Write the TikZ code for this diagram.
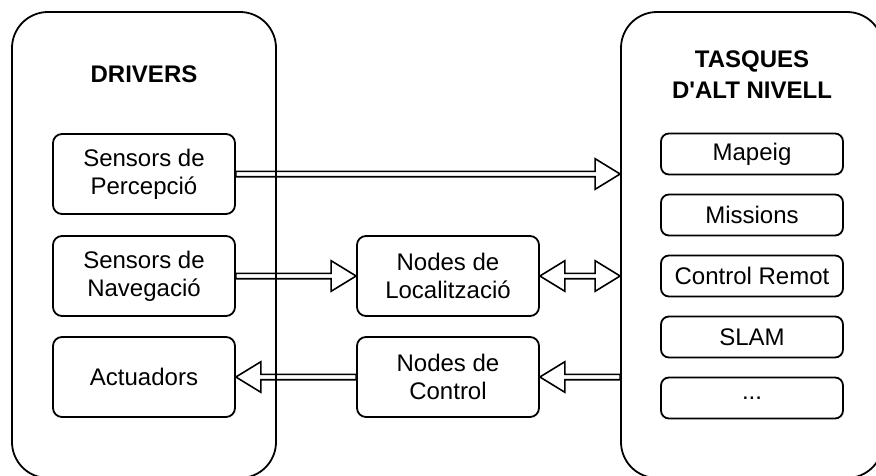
\documentclass[tikz,border=0pt]{standalone}
\usepackage{fontspec}
\setmainfont{Liberation Sans}[Ligatures=TeXOff]
\usetikzlibrary{calc}

% shaft half-width, head half-width and head length of the hollow block arrows
\newcommand\sh{2.7pt}
\newcommand\hw{15.3pt}
\newcommand\hl{25pt}

% hollow block arrow from #1 to #2 (tip at #2)
\newcommand\blockarrow[2]{%
  \draw[blockarr] let \p1=(#1), \p2=(#2), \p3=($(#2)!\hl!(#1)$) in
    (\x1,\y1+\sh) -- (\x3,\y1+\sh) -- (\x3,\y1+\hw) -- (\x2,\y1)
    -- (\x3,\y1-\hw) -- (\x3,\y1-\sh) -- (\x1,\y1-\sh) -- cycle;}

% hollow block arrow with heads at both ends
\newcommand\blockarrowboth[2]{%
  \draw[blockarr] let \p1=(#1), \p2=(#2), \p3=($(#1)!\hl!(#2)$),
    \p4=($(#2)!\hl!(#1)$) in
    (\x1,\y1) -- (\x3,\y1+\hw) -- (\x3,\y1+\sh) -- (\x4,\y1+\sh)
    -- (\x4,\y1+\hw) -- (\x2,\y1) -- (\x4,\y1-\hw) -- (\x4,\y1-\sh)
    -- (\x3,\y1-\sh) -- (\x3,\y1-\hw) -- cycle;}

\tikzset{
  container/.style={draw, line width=1.8pt, rounded corners=36pt,
    inner sep=0pt},
  bigbox/.style={draw, line width=1.8pt, rounded corners=9pt, fill=white,
    minimum width=182pt, minimum height=80pt, inner sep=0pt, align=center,
    font=\fontsize{24}{28}\selectfont},
  taskbox/.style={draw, line width=1.8pt, rounded corners=8pt, fill=white,
    minimum width=182pt, minimum height=41pt, inner sep=0pt, align=center,
    font=\fontsize{24}{28}\selectfont},
  heading/.style={align=center, inner sep=0pt,
    font=\fontsize{24}{31}\selectfont\bfseries},
  blockarr/.style={draw, line width=1.6pt, line join=miter},
}

\begin{document}
\begin{tikzpicture}[x=1pt, y=-1pt]
\useasboundingbox (0,0) rectangle (876,475);

% outer groups
\node[container, minimum width=264pt, minimum height=466pt] (drv) at (144,245) {};
\node[container, minimum width=262pt, minimum height=466pt] (tsk) at (752,245) {};

\node[heading] (drvtitle) at (144,74) {DRIVERS};
\node[heading] (tsktitle) at (752,75) {TASQUES\\D'ALT NIVELL};

% drivers
\node[bigbox] (perc) at (144,174) {Sensors de\\Percepció};
\node[bigbox] (nav)  at (144,276) {Sensors de\\Navegació};
\node[bigbox] (act)  at (144,377) {Actuadors};

% intermediate nodes
\node[bigbox] (loc)  at (448,276) {Nodes de\\Localització};
\node[bigbox] (ctrl) at (448,377) {Nodes de\\Control};

% high-level tasks
\node[taskbox] (map)  at (752,154) {Mapeig};
\node[taskbox] (mis)  at (752,215) {Missions};
\node[taskbox] (rem)  at (752,276) {Control Remot};
\node[taskbox] (slam) at (752,337) {SLAM};
\node[taskbox] (etc)  at (752,398) {...};

% data flow
\blockarrow{perc.east}{tsk.west |- perc.east}
\blockarrow{nav.east}{loc.west}
\blockarrowboth{loc.east}{tsk.west |- loc.east}
\blockarrow{tsk.west |- ctrl.east}{ctrl.east}
\blockarrow{ctrl.west}{act.east}
\end{tikzpicture}
\end{document}
